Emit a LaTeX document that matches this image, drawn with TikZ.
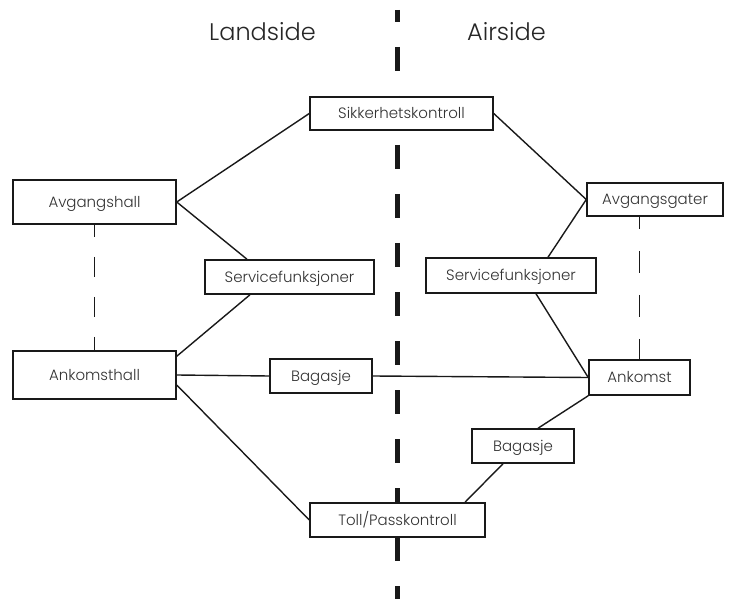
\documentclass[tikz,border=0pt]{standalone}
\usepackage{fontspec}
\setmainfont{Poppins}[UprightFont=* Light]
\begin{document}
\begin{tikzpicture}[x=1pt,y=-1pt,
  box/.style={draw=black!90, line width=1.5pt, fill=white, inner sep=0pt,
    text=black!80, font=\fontsize{15}{17}\selectfont, text height=10.8pt, text depth=0pt},
  conn/.style={draw=black!90, line width=1.4pt},
  thindash/.style={draw=black!90, line width=1.5pt},
  title/.style={text=black!85, font=\fontsize{24}{28}\selectfont, anchor=base, inner sep=0pt}]
\useasboundingbox (0,0) rectangle (729,599);
% central divider
\draw[black!90, line width=5pt, dash pattern=on 24pt off 25pt, dash phase=12pt] (397,10) -- (397,599);
% titles
\node[title] (land) at (262.5,41) {Landside};
\node[title] (air) at (506.5,41) {Airside};
% boxes
\node[box, minimum width=183pt, minimum height=33pt] (sik) at (401.5,113.5) {Sikkerhetskontroll};
\node[box, minimum width=163pt, minimum height=44pt] (avgh) at (94.5,202) {Avgangshall};
\node[box, minimum width=163pt, minimum height=48pt] (ankh) at (94.5,375) {Ankomsthall};
\node[box, minimum width=169pt, minimum height=34pt] (svcL) at (289.5,277) {Servicefunksjoner};
\node[box, minimum width=102pt, minimum height=34pt] (bagL) at (321,376) {Bagasje};
\node[box, minimum width=136pt, minimum height=33pt] (avgg) at (655,199.5) {Avgangsgater};
\node[box, minimum width=170pt, minimum height=35pt] (svcR) at (511,275.5) {Servicefunksjoner};
\node[box, minimum width=101pt, minimum height=35pt] (ank) at (639.5,377.5) {Ankomst};
\node[box, minimum width=102pt, minimum height=34pt] (bagR) at (523,446) {Bagasje};
\node[box, minimum width=175pt, minimum height=34pt] (toll) at (397.5,520) {Toll/Passkontroll};
% connectors
\draw[conn] (avgh.east) -- (sik.west);
\draw[conn] (sik.east) -- (avgg.west);
\draw[conn] (avgh.east) -- ([xshift=-42.5pt]svcL.north);
\draw[conn] ([xshift=-39.5pt]svcL.south) -- ([yshift=-6pt]ankh.north east);
\draw[conn] (ankh.east) -- (bagL.west);
\draw[conn] (bagL.east) -- (ank.west);
\draw[conn] ([yshift=-10pt]ankh.east) -- (toll.west);
\draw[conn] (avgg.west) -- ([xshift=37pt]svcR.north);
\draw[conn] ([xshift=25pt]svcR.south) -- (ank.west);
\draw[conn] (ank.south west) -- ([xshift=15pt]bagR.north);
\draw[conn] ([xshift=-20pt]bagR.south) -- ([xshift=67.5pt]toll.north);
% dashed links
\draw[thindash, dash pattern=on 20pt off 20pt, dash phase=8pt] (avgh.south) -- (ankh.north);
\draw[thindash, dash pattern=on 22pt off 22pt, dash phase=10pt] (avgg.south -| ank.north) -- (ank.north);
\end{tikzpicture}
\end{document}
